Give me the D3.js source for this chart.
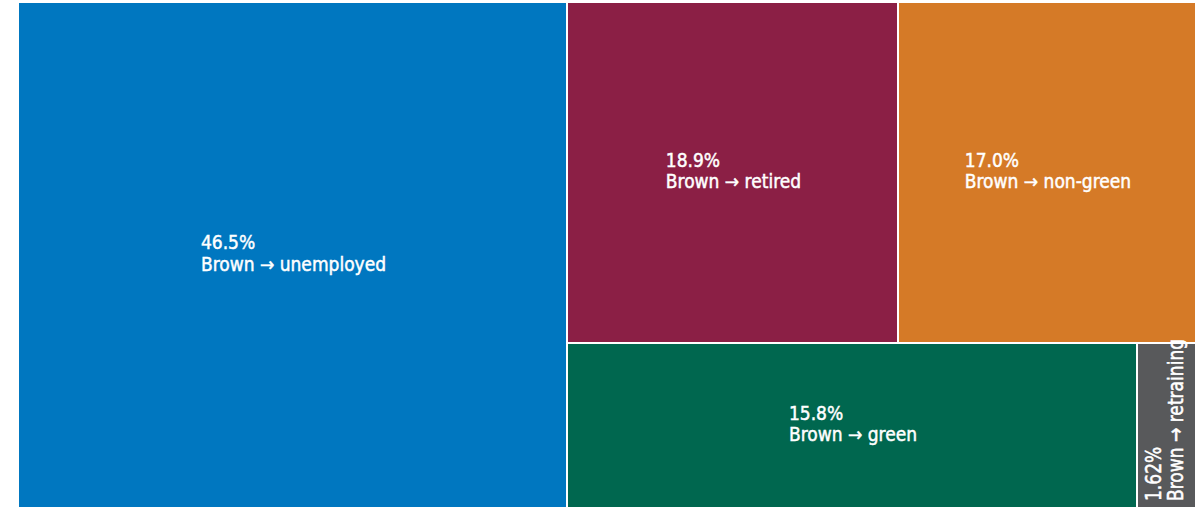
<!DOCTYPE html>
<html>
<head>
<meta charset="utf-8">
<script src="https://cdn.jsdelivr.net/npm/d3@7"></script>
<style>
  html, body { margin: 0; padding: 0; background: #ffffff; }
  svg { display: block; }
  .lbl {
    font-family: "DejaVu Sans Condensed", "DejaVu Sans", sans-serif;
    font-stretch: condensed;
    fill: #ffffff; stroke: #ffffff; stroke-width: 0.45px;
    font-size: 19px;
  }
</style>
</head>
<body>
<svg id="chart" width="1198" height="507"></svg>
<script>
// Where workers leaving brown jobs end up (share of transitions, %)
const categories = ["unemployed", "retired", "non-green", "green", "retraining"];
const shares = [46.5, 18.9, 17.0, 15.8, 1.62];
const shareLabels = ["46.5%", "18.9%", "17.0%", "15.8%", "1.62%"];
const colors = ["#0077c0", "#8b1f45", "#d57a27", "#00674f", "#58595b"];

const svg = d3.select("#chart");

const leaf = i => ({ name: categories[i], value: shares[i], label: shareLabels[i], color: colors[i] });

// unemployed on the left; the rest split into a top row and a bottom row
const tree = {
  name: "root",
  children: [
    leaf(0),
    { name: "rest", children: [
      { name: "top", children: [leaf(1), leaf(2)] },
      { name: "bottom", children: [leaf(3), leaf(4)] }
    ]}
  ]
};

const root = d3.hierarchy(tree).sum(d => d.value || 0);

d3.treemap()
  .tile(d3.treemapSliceDice)
  .size([1176, 504])
  .paddingInner(2)
  .round(true)(root);

const g = svg.append("g").attr("transform", "translate(19,3)");

const cell = g.selectAll("g.cell")
  .data(root.leaves())
  .join("g")
  .attr("class", "cell");

cell.append("rect")
  .attr("x", d => d.x0)
  .attr("y", d => d.y0)
  .attr("width", d => d.x1 - d.x0)
  .attr("height", d => d.y1 - d.y0)
  .attr("fill", d => d.data.color);

const lineGap = 21.5;

cell.each(function(d) {
  const sel = d3.select(this);
  const cx = (d.x0 + d.x1) / 2, cy = (d.y0 + d.y1) / 2;
  const lines = [d.data.label, "Brown \u2192 " + d.data.name];
  const vertical = (d.x1 - d.x0) < 100;
  const t = sel.append("text").attr("class", "lbl");
  lines.forEach(s => t.append("tspan").text(s));
  if (!vertical) {
    // center the two-line block, lines left aligned
    const widths = t.selectAll("tspan").nodes().map(n => n.getComputedTextLength());
    const w = Math.max(...widths);
    t.selectAll("tspan")
      .attr("x", cx - w / 2 + 1)
      .attr("y", (s, i) => cy - 6 + i * lineGap);
  } else {
    // narrow cell: read bottom-to-top, starting near the bottom edge
    const sy = 1.15;
    t.attr("transform", `translate(${cx},${d.y1 - 6}) rotate(-90) scale(1,${sy})`);
    t.selectAll("tspan")
      .attr("x", 0)
      .attr("y", (s, i) => (-5.5 + i * 22) / sy);
  }
});
</script>
</body>
</html>
